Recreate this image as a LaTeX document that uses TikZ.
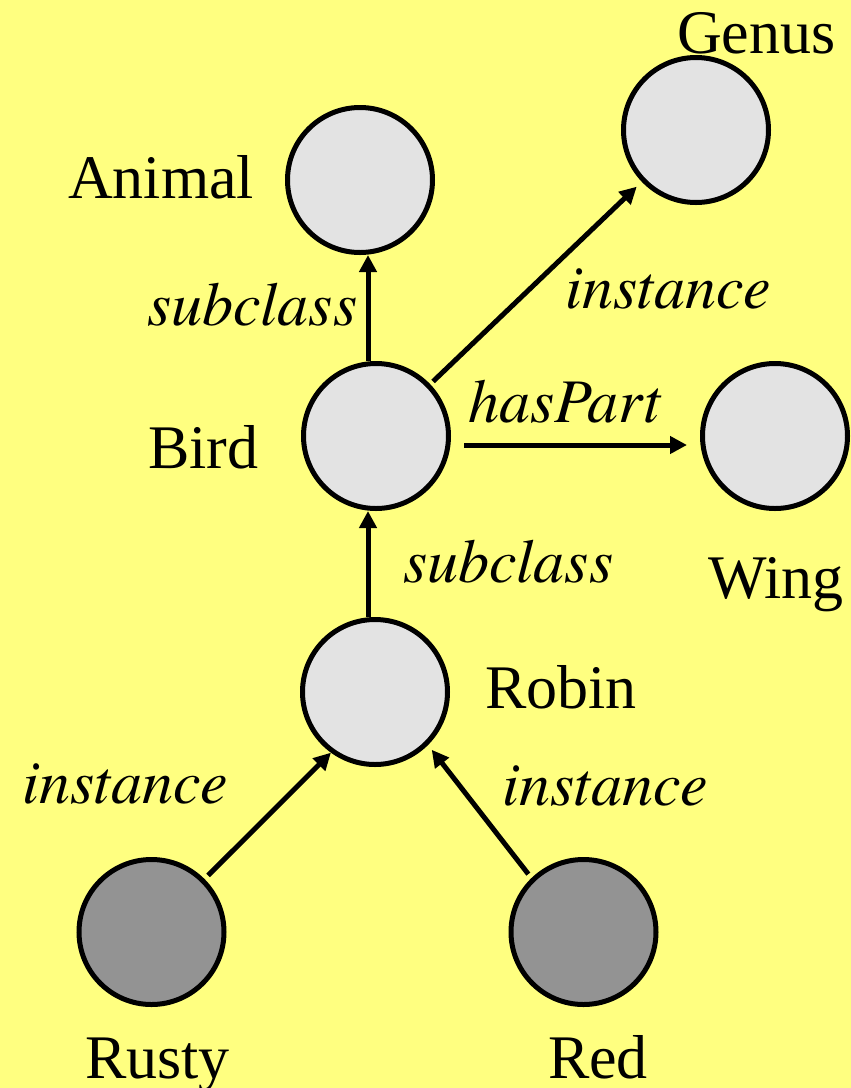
\documentclass[tikz,border=0pt]{standalone}
\usepackage{fontspec}
\setmainfont{Liberation Serif}
\newfontfamily\relfont{TeX Gyre Termes}
\usetikzlibrary{arrows.meta}
\definecolor{bgyellow}{HTML}{FFFF80}
\definecolor{lightnode}{HTML}{E3E3E3}
\definecolor{darknode}{HTML}{939393}
\tikzset{
  concept/.style={circle, draw=black, line width=5pt, fill=lightnode, minimum size=145pt, inner sep=0pt},
  individual/.style={concept, fill=darknode},
  nametext/.style={anchor=base west, inner sep=0pt, outer sep=0pt, font=\fontsize{62}{70}\selectfont},
  reltext/.style={nametext, font=\fontsize{62}{70}\selectfont\relfont\itshape},
  arr/.style={line width=5pt, -{Triangle[length=17pt,width=17pt]}}
}
\begin{document}
\begin{tikzpicture}[x=1pt,y=-1pt]
\fill[bgyellow] (0,0) rectangle (851,1088);
\useasboundingbox (0,0) rectangle (851,1088);
% circles
\node[concept] (Animal) at (360,180) {};
\node[concept] (Genus) at (696,130) {};
\node[concept] (Bird) at (376,436) {};
\node[concept] (Wing) at (775,436) {};
\node[concept] (Robin) at (375,692) {};
\node[individual] (Rusty) at (151.5,932) {};
\node[individual] (Red) at (583.5,932) {};
% names
\node[nametext] (tAnimal) at (68,198) {Animal};
\node[nametext] (tGenus) at (677,53) {Genus};
\node[nametext] (tBird) at (148,468) {Bird};
\node[nametext] (tWing) at (708,598) {Wing};
\node[nametext] (tRobin) at (485,708) {Robin};
\node[nametext] (tRusty) at (85,1078) {Rusty};
\node[nametext] (tRed) at (548,1078) {Red};
% relation labels
\node[reltext] (lSub1) at (147,325) {subclass};
\node[reltext] (lInst1) at (565,308) {instance};
\node[reltext] (lHas) at (468,422) {hasPart};
\node[reltext] (lSub2) at (403,582) {subclass};
\node[reltext] (lInst2) at (22,803) {instance};
\node[reltext] (lInst3) at (502,805) {instance};
% connectors
\draw[arr] ([xshift=-8pt]Bird.north) -- ([xshift=8pt]Animal.south);
\draw[arr] ([xshift=-7pt]Robin.north) -- ([xshift=-8pt]Bird.south);
\draw[arr, shorten <=4pt, shorten >=7pt] (Bird) -- (Genus);
\draw[arr, shorten <=13pt, shorten >=13pt] ([yshift=-9pt]Bird.east) -- ([yshift=-9pt]Wing.west);
\draw[arr, shorten <=5pt] (Rusty.45) -- (Robin.234);
\draw[arr, shorten <=5pt, shorten >=6pt] (Red.134) -- (Robin.-45);
\end{tikzpicture}
\end{document}
